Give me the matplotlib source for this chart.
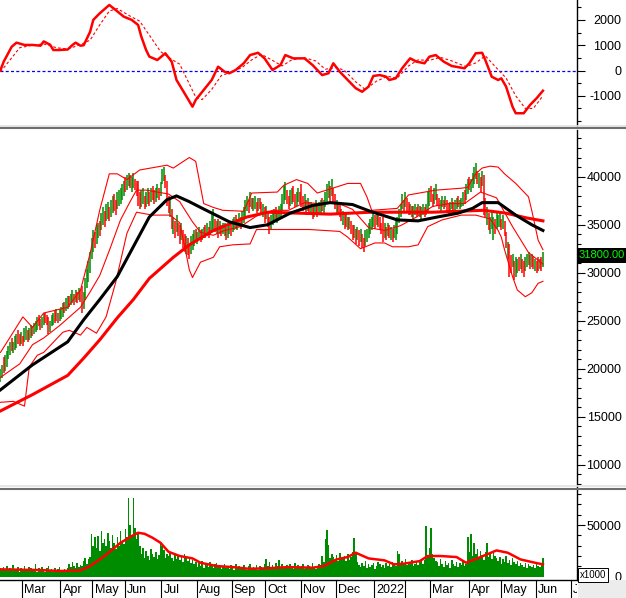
import matplotlib
matplotlib.use('Agg')
import matplotlib.pyplot as plt
from matplotlib.ticker import MultipleLocator
from matplotlib.lines import Line2D
from matplotlib.patches import Rectangle
import matplotlib.transforms as mtrans
import numpy as np

plt.rcParams['font.family'] = ['Liberation Sans', 'DejaVu Sans']

# ---- daily bars (prices in units of 100) ----
lows = [
    186, 190, 196, 198, 202, 210, 214, 218, 216, 220,
    222, 226, 224, 226, 224, 228, 230, 228, 230, 232,
    234, 236, 238, 240, 244, 240, 242, 246, 248, 246,
    236, 238, 244, 246, 248, 250, 248, 250, 252, 254,
    258, 260, 262, 264, 266, 268, 266, 270, 268, 272,
    270, 258, 262, 272, 284, 290, 300, 314, 322, 326,
    330, 336, 338, 344, 350, 348, 354, 356, 354, 358,
    362, 364, 360, 366, 370, 372, 376, 380, 384, 386,
    390, 388, 384, 388, 386, 380, 370, 366, 368, 372,
    366, 368, 372, 370, 374, 376, 372, 374, 378, 376,
    380, 392, 396, 388, 370, 362, 358, 346, 340, 336,
    342, 338, 330, 334, 326, 322, 320, 318, 314, 320,
    324, 328, 332, 330, 334, 332, 334, 336, 336, 338,
    336, 340, 344, 346, 342, 340, 336, 340, 338, 340,
    338, 334, 336, 340, 338, 342, 344, 346, 344, 348,
    346, 350, 352, 358, 364, 362, 368, 366, 364, 366,
    362, 364, 366, 362, 358, 352, 356, 348, 340, 346,
    350, 352, 354, 352, 356, 358, 364, 372, 376, 372,
    366, 370, 372, 374, 368, 370, 374, 372, 368, 364,
    366, 360, 364, 362, 360, 356, 358, 362, 358, 360,
    362, 364, 362, 368, 374, 378, 374, 380, 372, 366,
    362, 360, 358, 354, 350, 346, 348, 344, 346, 340,
    334, 336, 330, 334, 328, 332, 326, 322, 328, 332,
    336, 340, 344, 348, 346, 350, 348, 344, 340, 332,
    336, 334, 338, 336, 334, 332, 336, 334, 340, 352,
    358, 366, 362, 368, 364, 360, 360, 358, 356, 360,
    358, 360, 358, 356, 360, 358, 360, 364, 370, 374,
    368, 372, 376, 370, 366, 364, 368, 366, 368, 364,
    360, 362, 366, 362, 364, 366, 368, 366, 368, 370,
    372, 376, 382, 386, 384, 388, 392, 398, 392, 388,
    384, 390, 360, 358, 350, 344, 340, 346, 334, 340,
    346, 348, 348, 344, 346, 338, 326, 314, 296, 300,
    306, 292, 296, 300, 302, 304, 300, 296, 302, 306,
    308, 304, 306, 304, 302, 300, 302, 304, 302, 306,
]
highs = [
    200, 204, 212, 214, 218, 224, 228, 232, 228, 234,
    236, 240, 236, 238, 234, 242, 244, 240, 242, 246,
    244, 248, 250, 254, 256, 252, 254, 258, 258, 256,
    254, 250, 256, 258, 260, 262, 258, 262, 264, 268,
    270, 274, 276, 276, 278, 282, 278, 282, 280, 284,
    282, 286, 280, 294, 304, 312, 322, 336, 344, 342,
    350, 352, 354, 362, 368, 364, 372, 374, 368, 376,
    380, 382, 376, 384, 386, 388, 392, 396, 400, 402,
    404, 402, 400, 404, 398, 396, 396, 384, 386, 388,
    380, 384, 388, 384, 388, 390, 386, 388, 392, 388,
    394, 408, 410, 402, 396, 380, 376, 366, 358, 354,
    360, 352, 350, 352, 344, 340, 338, 336, 330, 338,
    340, 344, 346, 342, 348, 344, 346, 348, 350, 352,
    348, 354, 362, 366, 356, 354, 356, 354, 350, 352,
    352, 348, 350, 354, 350, 356, 358, 360, 356, 362,
    358, 364, 368, 376, 380, 376, 384, 378, 378, 380,
    374, 378, 378, 374, 372, 368, 370, 364, 358, 360,
    362, 366, 368, 364, 370, 372, 382, 390, 394, 386,
    380, 386, 388, 390, 382, 384, 388, 384, 392, 380,
    382, 376, 378, 374, 374, 370, 372, 376, 370, 374,
    376, 378, 376, 384, 392, 396, 390, 398, 388, 382,
    376, 374, 372, 366, 364, 360, 362, 358, 358, 354,
    350, 350, 346, 348, 344, 346, 340, 336, 344, 346,
    352, 356, 358, 362, 360, 364, 360, 358, 352, 358,
    352, 348, 352, 350, 348, 346, 350, 356, 358, 366,
    372, 382, 376, 384, 378, 374, 372, 370, 370, 372,
    368, 372, 370, 368, 372, 368, 372, 384, 388, 390,
    382, 388, 392, 382, 378, 376, 380, 376, 380, 376,
    372, 374, 378, 374, 376, 378, 380, 376, 378, 384,
    386, 392, 398, 400, 398, 404, 410, 414, 406, 404,
    400, 406, 402, 378, 368, 362, 358, 364, 358, 356,
    362, 360, 362, 356, 360, 354, 342, 332, 330, 318,
    320, 312, 316, 314, 316, 320, 314, 312, 316, 320,
    322, 318, 320, 316, 314, 312, 316, 314, 316, 322,
]
updown = (
    "ggrggggrgg" "grrgrggrgg" "rgggrrggrr" "rgggrgrggg" "rggrggrgrg"
    "rrgggggggr" "ggrggrggrg" "grrgggggrg" "grggrrrrgg" "rggrgrrggr"
    "gggrrrgrgr" "grrgrrgrrg" "ggrggrggrg" "rgggrgrgrg" "grggrggrgg"
    "rggggrgrgg" "rgrrgrgrrg" "ggrggggggr" "rggrrggrrr" "grgrgrggrg"
    "grggggrgrr" "grrrgrgrgr" "rgrgrgrrgg" "ggggrgrrrr" "grgrgrgggg"
    "ggrgrrgrgg" "rgrggrgggr" "rggrrggrgr" "rggrggrggg" "rggrggggrg"
    "rgrrgrgggr" "gggrgrrgrr" "grggrgrrgg" "grgrgrrgrg"
)

# volume, in thousands of the axis unit (axis shows x1000)
volume = [
    8, 6, 9, 7, 10, 6, 8, 7, 11, 6,
    7, 9, 5, 8, 6, 10, 7, 6, 9, 8,
    6, 7, 12, 5, 8, 6, 9, 7, 5, 8,
    10, 6, 7, 5, 8, 6, 7, 9, 5, 6,
    7, 5, 8,
    12, 9, 14, 10, 8, 13, 9, 11, 10,
    15, 18, 12, 17, 19,
    41, 30, 38, 28, 39, 25, 44, 33, 36,
    30, 42, 35, 28, 40, 33, 27, 38, 30, 44, 35, 32,
    46, 38, 76, 50, 40, 76, 47, 36, 42, 30,
    22, 28, 18, 25, 20, 16, 27, 22, 19, 24, 17, 21, 33,
    30, 26, 18, 22, 20,
    23, 18, 15, 21, 17, 20, 16, 19, 14, 22, 18, 15, 17, 13, 16,
    12, 14, 9, 13, 10, 15, 8, 11, 12, 9, 14, 10, 8, 12, 13, 9, 11, 7, 10, 12,
    8, 10, 7, 11, 9, 6, 12, 8, 10, 7, 9, 11, 8, 6, 10, 12, 7, 9, 8, 11, 6, 10, 9, 7, 12,
    17, 10, 14, 9, 11, 8, 13, 10, 16, 9, 12, 8,
    9, 11, 8, 12, 10, 7, 13, 9, 11, 8, 10, 12, 7, 9, 11, 10, 8, 13, 9, 7, 10, 12, 11,
    20, 14, 36, 45, 31, 18, 22,
    19, 16, 21, 15, 23, 18, 17, 20, 15, 22, 16, 19, 24,
    37, 22,
    14, 11, 9, 13, 10, 15, 8, 12, 9, 11, 13, 7, 10, 14, 12, 9, 11, 8, 13, 10,
    12, 9, 14, 11, 10, 25, 22, 13,
    15, 12, 17, 11, 14, 13, 16, 10, 12, 15, 11, 14, 17, 12, 16,
    49, 20, 28, 47, 22, 18, 15,
    14, 10, 17, 12, 9, 15, 11, 13, 8, 16, 12, 10, 14, 9, 13, 11, 15, 10, 12,
    38, 24, 41, 20, 33, 22, 27, 18, 25, 21, 16, 24, 33, 19, 22, 17, 23, 20, 18,
    15, 19, 12, 17, 14, 20, 13, 16, 11, 18, 14, 12, 15, 10, 13,
    11, 9, 13, 8, 12, 10, 9, 11, 8, 12, 10, 9, 11, 18,
]

# ---- indicator lines (bar index, value) ----
ma_long_idx = [0, 20, 42, 52, 62, 73, 83, 93, 108, 118, 133, 154, 167, 187, 206, 231, 270, 302, 316, 329, 339]
ma_long = [156, 173, 193, 211, 230, 253, 272, 294, 316, 329, 344, 358, 363, 362, 361, 363, 363, 365, 362, 357, 354]

ma_mid_idx = [0, 20, 31, 42, 52, 62, 73, 83, 93, 104, 110, 118, 125, 143, 156, 167, 181, 195, 206, 220,
              231, 248, 261, 273, 286, 295, 301, 311, 322, 332, 339]
ma_mid = [178, 204, 216, 228, 251, 272, 296, 327, 358, 376, 380, 374, 368, 353, 347, 350, 362, 370, 373, 371,
          364, 355, 354, 358, 362, 367, 373, 373, 360, 350, 344]

bb_mid_idx = [0, 12, 20, 27, 37, 50, 56, 62, 68, 75, 81, 85, 91, 105, 112, 115, 120, 125, 133, 140, 150, 160,
              170, 180, 190, 200, 210, 220, 230, 240, 250, 260, 270, 280, 290, 300, 310, 320, 330, 339]
bb_mid = [191, 205, 225, 232, 245, 264, 280, 297, 323, 355, 374, 386, 386, 382, 374, 366, 353, 342, 339, 344,
          348, 359, 365, 365, 373, 372, 373, 366, 347, 344, 349, 358, 369, 372, 372, 384, 378, 348, 321, 309]

bb_up_idx = [0, 14, 20, 27, 42, 50, 56, 62, 68, 73, 79, 87, 104, 108, 118, 122, 127, 133, 139, 152, 157, 173,
             177, 185, 192, 198, 217, 225, 229, 232, 248, 255, 272, 288, 292, 297, 301, 306, 311, 315, 322,
             330, 332, 336, 339]
bb_up = [217, 254, 243, 258, 264, 282, 320, 365, 403, 403, 397, 407, 412, 409, 420, 416, 372, 368, 365, 364,
         383, 384, 391, 397, 393, 383, 393, 393, 379, 365, 367, 381, 386, 388, 389, 403, 409, 411, 410, 403,
         393, 379, 365, 334, 324]

bb_low_idx = [0, 8, 15, 18, 23, 27, 39, 43, 50, 54, 60, 66, 72, 79, 85, 95, 106, 112, 116, 118, 120, 125,
              133, 137, 145, 156, 160, 185, 193, 212, 217, 225, 228, 234, 240, 245, 255, 261, 267, 276, 288,
              297, 306, 311, 313, 315, 320, 323, 328, 332, 336, 339]
bb_low = [165, 166, 161, 202, 214, 217, 238, 240, 235, 243, 237, 254, 290, 341, 363, 360, 360, 352, 320, 303,
          295, 311, 316, 327, 329, 330, 345, 345, 345, 343, 337, 325, 327, 331, 331, 327, 327, 329, 348, 355,
          360, 360, 356, 344, 337, 324, 296, 282, 275, 279, 289, 291]

macd_idx = [0, 2, 7, 10, 15, 20, 25, 27, 31, 33, 37, 42, 45, 47, 50, 52, 56, 58, 62, 68, 72, 77, 82, 86, 88,
            91, 93, 98, 103, 107, 110, 115, 120, 122, 127, 132, 136, 140, 143, 147, 152, 156, 161, 165, 170,
            175, 178, 183, 190, 195, 201, 205, 208, 212, 217, 222, 226, 230, 233, 237, 241, 243, 247, 251,
            256, 260, 265, 268, 272, 277, 282, 290, 293, 297, 301, 303, 307, 311, 313, 316, 320, 322, 327,
            331, 335, 339]
macd = [20, 350, 940, 1100, 1010, 1010, 980, 1150, 1020, 810, 810, 830, 1010, 1100, 980, 1000, 1530, 2000,
        2260, 2590, 2390, 2130, 2000, 1800, 1340, 810, 550, 415, 680, 350, -375, -900, -1430, -1165, -770,
        -375, 150, -47, -110, 20, 285, 610, 700, 480, 20, 217, 610, 480, 480, 217, -180, -110, 285, -47,
        -375, -700, -840, -640, -217, -180, -245, -375, -310, 87, 480, 350, 285, 545, 610, 350, 178, 87, 285,
        680, 700, 415, -245, -375, -310, -640, -1430, -1690, -1690, -1360, -1100, -800]

signal_idx = [0, 7, 12, 20, 27, 35, 42, 50, 56, 62, 68, 73, 81, 87, 93, 100, 106, 112, 117, 122, 126, 132,
              138, 145, 151, 157, 163, 170, 176, 182, 190, 197, 203, 210, 215, 222, 228, 235, 242, 248, 255,
              261, 268, 275, 282, 291, 297, 303, 310, 316, 322, 328, 333, 339]
signal = [-50, 500, 900, 1000, 1050, 900, 850, 1020, 1200, 1800, 2350, 2450, 2150, 1950, 1400, 750, 480, 250,
          -400, -1050, -1150, -750, -200, -50, 120, 420, 640, 400, 180, 420, 500, 380, 50, 120, 0, -450, -750,
          -420, -230, -300, 180, 420, 400, 520, 380, 150, 300, 580, 100, -300, -1000, -1500, -1500, -1000]

vol_ma_idx = [0, 25, 37, 50, 56, 65, 75, 82, 86, 90, 95, 100, 105, 112, 120, 125, 135, 145, 155, 165, 180,
              195, 202, 210, 217, 222, 230, 240, 246, 252, 262, 267, 275, 285, 291, 300, 310, 317, 325, 332, 339]
vol_ma = [7.1, 6.4, 5.5, 6.1, 10.3, 20, 32.8, 39.3, 42.5, 41.5, 37.7, 32.8, 24.1, 20, 17.7, 13.5, 10.3, 9.3,
          7.7, 8, 9.3, 8.7, 10.3, 16.7, 19, 23.2, 17.7, 15.8, 11.9, 12.6, 15.1, 20, 20, 19, 13.5, 19, 25.4,
          23.2, 16.7, 14.2, 11.9]

month_pos = [13.5, 37.5, 57.5, 77.5, 100.5, 122.5, 144.5, 165.5, 187.5, 209.5, 233.5, 252.5, 268.5,
             292.5, 312.5, 334.5, 356.5]
month_lab = ['Mar', 'Apr', 'May', 'Jun', 'Jul', 'Aug', 'Sep', 'Oct', 'Nov', 'Dec', '2022', '',
             'Mar', 'Apr', 'May', 'Jun', 'J']

last_price = 31800

# ---- layout (pixel based) ----
W, H = 626, 598
AXR = 577
GREEN = '#008c00'
RED = '#ff0000'
XLIM = (-0.31, 360.3)

fig = plt.figure(figsize=(W / 100, H / 100), dpi=100)
fig.patch.set_facecolor('white')


def panel(top, bottom):
    return fig.add_axes([0, 1 - bottom / H, AXR / W, (bottom - top) / H])


def style(ax, ylim, major, minor):
    ax.set_xlim(*XLIM)
    ax.set_ylim(*ylim)
    for s in ['left', 'top', 'bottom']:
        ax.spines[s].set_visible(False)
    ax.spines['right'].set_linewidth(1.0)
    ax.yaxis.tick_right()
    ax.set_yticks(major)
    ax.set_yticklabels([str(v) for v in major], ha='right')
    ax.yaxis.set_minor_locator(MultipleLocator(minor))
    ax.tick_params(axis='y', which='major', direction='out', length=5.5, width=0.8, pad=26.5,
                   labelsize=9, colors='black')
    ax.tick_params(axis='y', which='minor', direction='out', length=3, width=0.8)
    ax.set_xticks([])


ax_osc = panel(0, 126)
ax_px = panel(130, 487)
ax_vol = panel(490, 580)
ax_dt = panel(580, 598)

# oscillator
style(ax_osc, (-2194, 2787), [-1000, 0, 1000, 2000], 500)
ax_osc.axhline(0, color='#0000ff', lw=0.9, ls=(0, (2.4, 1.8)))
ax_osc.plot(signal_idx, signal, color=RED, lw=0.8, ls=(0, (2.5, 2)))
ax_osc.plot(macd_idx, macd, color=RED, lw=1.8)

# price
style(ax_px, (7677, 44865), list(range(10000, 40001, 5000)), 1000)
x = np.arange(len(lows))
lo = np.array(lows) * 100
hi = np.array(highs) * 100
up = np.array([c == 'g' for c in updown])
ax_px.vlines(x[up], lo[up], hi[up], color=GREEN, lw=1.1)
ax_px.vlines(x[~up], lo[~up], hi[~up], color=RED, lw=1.1)
for ix, vals in [(bb_up_idx, bb_up), (bb_mid_idx, bb_mid), (bb_low_idx, bb_low)]:
    ax_px.plot(ix, np.array(vals) * 100, color=RED, lw=0.8)
ax_px.plot(ma_long_idx, np.array(ma_long) * 100, color=RED, lw=2.2)
ax_px.plot(ma_mid_idx, np.array(ma_mid) * 100, color='black', lw=2.2)
trans = mtrans.blended_transform_factory(ax_px.transAxes, ax_px.transData)
ax_px.text(1.0035, last_price, '%.2f' % last_price, transform=trans, color='#00ff00', fontsize=8,
           ha='left', va='center', clip_on=False,
           bbox=dict(facecolor='black', edgecolor='none', pad=1.6))

# volume
style(ax_vol, (-3191, 83849), [0, 50000], 10000)
ax_vol.bar(x, np.array(volume) * 1000, width=1.0, color=GREEN, linewidth=0)
ax_vol.plot(vol_ma_idx, np.array(vol_ma) * 1000, color=RED, lw=1.8)

# date strip
ax_dt.set_xlim(*XLIM)
ax_dt.set_ylim(0, 1)
for s in ['left', 'right', 'bottom']:
    ax_dt.spines[s].set_visible(False)
ax_dt.spines['top'].set_linewidth(1.0)
ax_dt.set_xticks([])
ax_dt.set_yticks([])
ax_dt.vlines(month_pos, 0, 1, color='black', lw=0.8)
for p, lab in zip(month_pos, month_lab):
    ax_dt.text(p + 1.3, 0.45, lab, fontsize=9, ha='left', va='center', clip_on=True)

# right-bottom grey corner and x1000 tag
fig.patches.append(Rectangle((578 / W, 0), (W - 578) / W, 18 / H, transform=fig.transFigure,
                             facecolor='#ececec', edgecolor='none'))
fig.text(593 / W, 1 - 575 / H, 'x1000', fontsize=7, ha='center', va='center',
         bbox=dict(facecolor='white', edgecolor='black', lw=0.7, pad=1.5))

# panel separators
for ys in (125.5, 486.3):
    fig.add_artist(Line2D([0, 1], [1 - ys / H] * 2, color='#e2e2e2', lw=1.2, transform=fig.transFigure))
    fig.add_artist(Line2D([0, 1], [1 - (ys + 2.5) / H] * 2, color='#6e6e6e', lw=1.5, transform=fig.transFigure))

fig.savefig('out.png', dpi=100)
